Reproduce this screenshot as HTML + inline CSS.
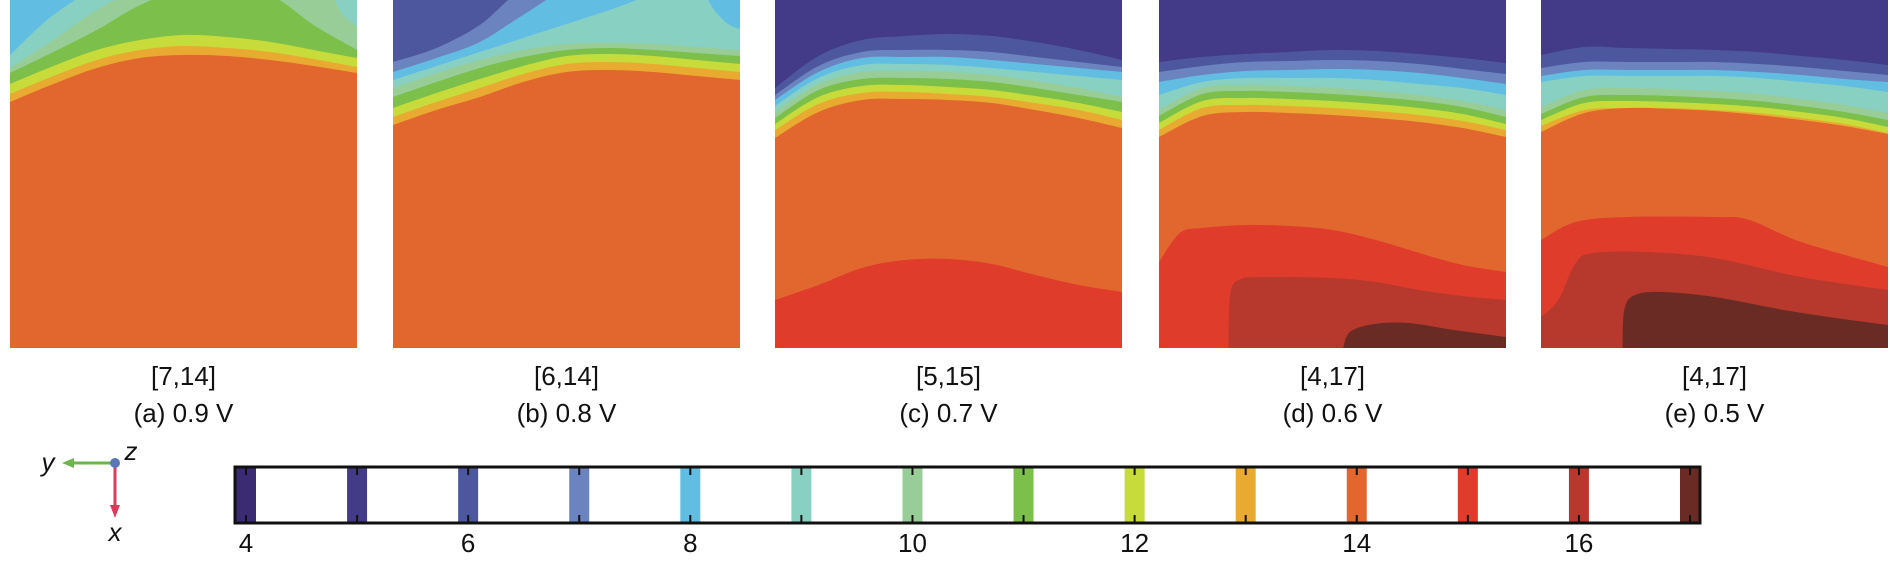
<!DOCTYPE html>
<html><head><meta charset="utf-8">
<style>
html,body{margin:0;padding:0;background:#fff;}
svg{display:block;}
text{font-family:"Liberation Sans",sans-serif;fill:#111;}
</style></head>
<body>
<svg id="fig" width="1890" height="569" viewBox="0 0 1890 569" xmlns="http://www.w3.org/2000/svg">
  <g id="panels"></g>
  <g id="triad">
    <line x1="115" y1="463" x2="70" y2="463" stroke="#6bb64a" stroke-width="3"/>
    <polygon points="62,463 74,458 74,468" fill="#6bb64a"/>
    <line x1="115" y1="463" x2="115" y2="508" stroke="#dd3b5c" stroke-width="3"/>
    <polygon points="115,518 110,505 120,505" fill="#dd3b5c"/>
    <circle cx="115" cy="463" r="5" fill="#5a78b8"/>
    <text x="48" y="471" font-size="26" font-style="italic" text-anchor="middle">y</text>
    <text x="131" y="460" font-size="26" font-style="italic" text-anchor="middle">z</text>
    <text x="115" y="541" font-size="26" font-style="italic" text-anchor="middle">x</text>
  </g>
  <g id="cbar"></g>
</svg>
<script>
// ---- data ----
const levels = [4,5,6,7,8,9,10,11,12,13,14,15,16,17];
const levelColors = ["#3b2b72","#433a88","#4d579e","#6b83bf","#62bde3","#88d0c2","#98cd97","#7cbf4a","#c7db3a","#e9aa32","#e2672e","#df3c2c","#b7392e","#6a2b24"];
const cbarTickLabels = ["4","6","8","10","12","14","16"];
const panelRanges = ["[7,14]","[6,14]","[5,15]","[4,17]","[4,17]"];
const panelVoltages = ["(a) 0.9 V","(b) 0.8 V","(c) 0.7 V","(d) 0.6 V","(e) 0.5 V"];
const sampleU = [0,0.125,0.25,0.375,0.5,0.625,0.75,0.875,1];
const topBoundsA = [
 [13,[102,84,68,58,55,56,60,66,73]],
 [12,[94,76,60,50,46,48,52,59,67]],
 [11,[84,66,50,40,35,37,42,50,58]],
 [10,[73,52,30,5,-10,-10,-5,25,50]],
 [9,[68,40,10,-10,-10,-10,-10,-10,-10]],
 [8,[55,15,-10,-10,-10,-10,-10,-10,-10]]];
const topBoundsB = [
 [13,[125,110,97,82,72,70,72,76,80]],
 [12,[117,102,88,74,64,62,64,68,72]],
 [11,[108,93,79,66,56,54,56,60,64]],
 [10,[97,82,68,57,50,48,50,53,56]],
 [9,[88,73,60,50,44,43,44,47,50]],
 [8,[80,66,52,38,24,10,-5,-10,-10]],
 [7,[72,58,42,15,-10,-10,-10,-10,-10]],
 [6,[62,48,25,-10,-10,-10,-10,-10,-10]]];
const topBoundsC = [
 [13,[138,112,100,99,100,103,110,118,128]],
 [12,[130,104,93,92,94,97,103,110,120]],
 [11,[124,97,86,85,87,90,96,103,112]],
 [10,[118,90,79,78,79,82,88,95,102]],
 [9,[112,84,72,71,72,75,81,88,97]],
 [8,[106,78,65,64,65,68,72,76,80]],
 [7,[100,72,58,57,57,60,64,68,72]],
 [6,[95,66,52,50,50,52,57,62,67]],
 [5,[88,56,40,36,34,36,42,50,60]]];
const topBoundsD = [
 [13,[137,116,112,113,115,118,122,128,137]],
 [12,[130,108,105,106,108,111,115,121,130]],
 [11,[123,101,98,99,101,104,108,114,124]],
 [10,[116,94,91,92,94,97,101,107,117]],
 [9,[110,88,85,86,88,91,95,101,110]],
 [8,[95,82,78,78,78,80,84,88,95]],
 [7,[82,75,71,70,69,70,73,78,84]],
 [6,[72,66,62,61,60,61,64,69,74]],
 [5,[62,57,54,52,50,51,54,58,63]]];
const topBoundsE = [
 [13,[132,113,108,109,111,115,120,126,134]],
 [12,[126,110,108,108,110,113,118,124,133]],
 [11,[120,103,101,102,104,107,112,118,127]],
 [10,[114,97,95,96,98,101,106,112,120]],
 [9,[107,90,88,89,91,94,99,105,113]],
 [8,[82,76,76,76,76,78,82,86,92]],
 [7,[76,70,70,70,70,72,75,79,82]],
 [6,[68,62,62,62,62,64,67,71,75]],
 [5,[55,47,48,49,50,52,56,60,65]]];
const cornerBlobA = [[9,[[0.93,-5],[0.95,10],[0.98,22],[1.01,28]]]];
const cornerBlobB = [[8,[[0.9,-5],[0.93,12],[0.97,25],[1.01,30]]]];
const botBoundsA = [];
const botBoundsB = [];
const botBoundsC = [[15,[[0,300],[0.125,285],[0.25,268],[0.375,260],[0.5,259],[0.625,264],[0.75,275],[0.875,285],[1,292]]]];
const botBoundsD = [
 [15,[[0,262],[0.06,233],[0.125,228],[0.25,225],[0.375,226],[0.5,230],[0.625,240],[0.75,253],[0.875,265],[1,272]]],
 [16,[[0.2,349],[0.205,295],[0.23,280],[0.3,277],[0.5,278],[0.625,282],[0.75,290],[0.875,296],[1,300]]],
 [17,[[0.53,349],[0.55,332],[0.62,324],[0.72,323],[0.85,330],[1,337]]]];
const botBoundsE = [
 [15,[[0,240],[0.1,222],[0.25,217],[0.5,217],[0.6,220],[0.75,242],[1,267]]],
 [16,[[0,317],[0.05,300],[0.1,263],[0.15,253],[0.3,252],[0.5,258],[0.75,277],[1,290]]],
 [17,[[0.235,349],[0.24,310],[0.27,295],[0.35,292],[0.5,297],[0.7,310],[0.85,318],[1,325]]]];
const topBounds = [topBoundsA,topBoundsB,topBoundsC,topBoundsD,topBoundsE];
const cornerBlobs = [cornerBlobA,cornerBlobB,[],[],[]];
const botBounds = [botBoundsA,botBoundsB,botBoundsC,botBoundsD,botBoundsE];

// ---- layout ----
const NS="http://www.w3.org/2000/svg";
const panelX=[10,393,775,1159,1541], panelW=347, panelH=348;
const col = l => levelColors[levels.indexOf(l)];
function smooth(pts){
  let d="";
  for(let i=0;i<pts.length-1;i++){
    const p0=pts[Math.max(0,i-1)],p1=pts[i],p2=pts[i+1],p3=pts[Math.min(pts.length-1,i+2)];
    const c1=[p1[0]+(p2[0]-p0[0])/6,p1[1]+(p2[1]-p0[1])/6];
    const c2=[p2[0]-(p3[0]-p1[0])/6,p2[1]-(p3[1]-p1[1])/6];
    d+=` C${c1[0].toFixed(1)},${c1[1].toFixed(1)} ${c2[0].toFixed(1)},${c2[1].toFixed(1)} ${p2[0].toFixed(1)},${p2[1].toFixed(1)}`;
  }
  return d;
}
const panels=document.getElementById('panels');
topBounds.forEach((tb,pi)=>{
  const x0=panelX[pi];
  const g=document.createElementNS(NS,'g');
  
  
  const cp=document.createElementNS(NS,'clipPath'); cp.id='clip'+pi;
  const cr=document.createElementNS(NS,'rect');
  cr.setAttribute('x',x0);cr.setAttribute('y',0);cr.setAttribute('width',panelW);cr.setAttribute('height',panelH);
  cp.appendChild(cr); g.appendChild(cp);
  const inner=document.createElementNS(NS,'g'); inner.setAttribute('clip-path','url(#clip'+pi+')');
  const base=document.createElementNS(NS,'rect');
  base.setAttribute('x',x0);base.setAttribute('y',0);base.setAttribute('width',panelW);base.setAttribute('height',panelH);
  base.setAttribute('fill',col(14));
  
  
  inner.appendChild(base);
  tb.forEach(([lev,vals])=>{
    const pts=vals.map((v,i)=>[x0+sampleU[i]*panelW,v]);
    const d=`M${x0-2},-5 L${x0-2},${pts[0][1]} L${pts[0][0]},${pts[0][1]}`+smooth(pts)+` L${x0+panelW+2},${pts[pts.length-1][1]} L${x0+panelW+2},-5 Z`;
    const p=document.createElementNS(NS,'path'); p.setAttribute('d',d); p.setAttribute('fill',col(lev));
    
    
    inner.appendChild(p);
  });
  cornerBlobs[pi].forEach(([lev,arr])=>{
    const pts=arr.map(([u,v])=>[x0+u*panelW,v]);
    const d=`M${pts[0][0]},${pts[0][1]}`+smooth(pts)+` L${x0+panelW+5},-5 Z`;
    const p=document.createElementNS(NS,'path'); p.setAttribute('d',d); p.setAttribute('fill',col(lev));
    
    
    inner.appendChild(p);
  });
  botBounds[pi].forEach(([lev,arr])=>{
    const pts=arr.map(([u,v])=>[x0+u*panelW,v]);
    const d=`M${pts[0][0]},${panelH+5} L${pts[0][0]},${pts[0][1]}`+smooth(pts)+` L${x0+panelW+2},${pts[pts.length-1][1]} L${x0+panelW+2},${panelH+5} Z`;
    const p=document.createElementNS(NS,'path'); p.setAttribute('d',d); p.setAttribute('fill',col(lev));
    
    
    inner.appendChild(p);
  });
  g.appendChild(inner);
  const cx=x0+panelW/2;
  const t1=document.createElementNS(NS,'text'); t1.setAttribute('x',cx);t1.setAttribute('y',385);
  t1.setAttribute('font-size','26');t1.setAttribute('text-anchor','middle');t1.textContent=panelRanges[pi];
  
  
  g.appendChild(t1);
  const t2=document.createElementNS(NS,'text'); t2.setAttribute('x',cx);t2.setAttribute('y',422);
  t2.setAttribute('font-size','26');t2.setAttribute('text-anchor','middle');t2.textContent=panelVoltages[pi];
  
  
  g.appendChild(t2);
  panels.appendChild(g);
});
const cb=document.getElementById('cbar');
const cbX0=235,cbX1=1700,cbY0=467,cbY1=523;
const tickX = l => 246 + (l-4)*(1690-246)/13;
levels.forEach((l,i)=>{
  const x=tickX(l);
  let a=x-10,b=x+10; if(i===0)a=cbX0; if(i===levels.length-1)b=cbX1;
  const r=document.createElementNS(NS,'rect');
  r.setAttribute('x',a);r.setAttribute('y',cbY0);r.setAttribute('width',b-a);r.setAttribute('height',cbY1-cbY0);
  r.setAttribute('fill',levelColors[i]);
  
  
  cb.appendChild(r);
  [[cbY0,cbY0+8],[cbY1-8,cbY1]].forEach(([y1,y2])=>{
    const t=document.createElementNS(NS,'line');
    t.setAttribute('x1',x);t.setAttribute('x2',x);t.setAttribute('y1',y1);t.setAttribute('y2',y2);
    t.setAttribute('stroke','#111');t.setAttribute('stroke-width','2');
    
    
    cb.appendChild(t);
  });
});
const frame=document.createElementNS(NS,'rect');
frame.setAttribute('x',cbX0);frame.setAttribute('y',cbY0);frame.setAttribute('width',cbX1-cbX0);frame.setAttribute('height',cbY1-cbY0);
frame.setAttribute('fill','none');frame.setAttribute('stroke','#111');frame.setAttribute('stroke-width','3');


cb.appendChild(frame);
cbarTickLabels.forEach(s=>{
  const t=document.createElementNS(NS,'text');
  t.setAttribute('x',tickX(+s));t.setAttribute('y',552);t.setAttribute('font-size','26');t.setAttribute('text-anchor','middle');
  t.textContent=s;
  
  
  cb.appendChild(t);
});
</script>
</body></html>
